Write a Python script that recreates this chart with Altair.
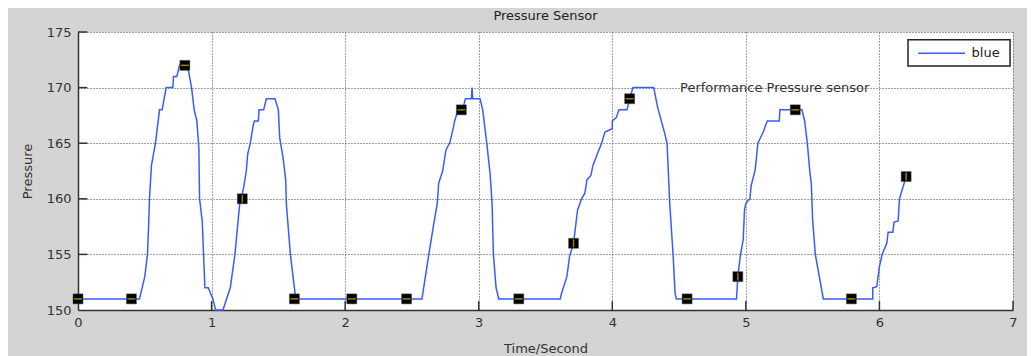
import altair as alt
import pandas as pd

# Pressure curve (time in seconds, pressure)
time_s = [0, 0.46, 0.50, 0.52, 0.53, 0.535, 0.55, 0.58, 0.61, 0.63, 0.66, 0.71, 0.715, 0.74, 0.76, 0.82,
          0.85, 0.87, 0.89, 0.905, 0.91, 0.93, 0.95, 0.975, 1.01, 1.03, 1.085, 1.14, 1.175, 1.21, 1.24,
          1.26, 1.27, 1.29, 1.31, 1.32, 1.35, 1.355, 1.39, 1.41, 1.475, 1.50, 1.51, 1.535, 1.555, 1.56,
          1.59, 1.62, 1.63, 2.575, 2.62, 2.66, 2.69, 2.70, 2.73, 2.755, 2.785, 2.81, 2.82, 2.845, 2.88,
          2.90, 2.945, 2.95, 2.955, 3.01, 3.03, 3.06, 3.085, 3.10, 3.11, 3.13, 3.15, 3.61, 3.62, 3.66,
          3.68, 3.71, 3.74, 3.77, 3.795, 3.81, 3.84, 3.855, 3.89, 3.92, 3.945, 4.0, 4.0, 4.03, 4.05,
          4.11, 4.13, 4.155, 4.31, 4.34, 4.39, 4.41, 4.42, 4.43, 4.455, 4.47, 4.48, 4.93, 4.94, 4.96,
          4.98, 4.99, 5.0, 5.03, 5.04, 5.07, 5.09, 5.13, 5.16, 5.25, 5.255, 5.42, 5.44, 5.46, 5.48,
          5.49, 5.50, 5.52, 5.58, 5.95, 5.95, 5.98, 6.0, 6.02, 6.055, 6.065, 6.10, 6.11, 6.14, 6.15, 6.20]
pressure = [151, 151, 153, 155, 158, 160, 163, 165, 168, 168, 170, 170, 171, 171, 172, 172,
            170, 168, 167, 164.5, 160, 158, 152, 152, 151, 150, 150, 152, 155, 159.5, 161,
            162.5, 164, 165, 166.5, 167, 167, 168, 168, 169, 169, 168, 165.5, 163.7, 161.7, 159.5,
            155, 152, 151, 151, 154.5, 157.5, 159.6, 161.4, 162.5, 164.4, 165.1, 166.4, 167, 168, 168,
            169, 169, 170, 169, 169, 168, 165, 162.3, 159.6, 155, 152, 151, 151, 151.5, 153,
            154.8, 156, 159, 160, 160.5, 161.7, 162.1, 163, 164.1, 165, 166, 166.3, 167, 167.3, 168,
            168, 169, 170, 170, 168.2, 166, 165, 162.3, 159.6, 155, 151.5, 151, 151, 153, 155,
            156.3, 159, 159.6, 160, 161.2, 162.6, 165, 166, 167, 167, 168, 168, 167, 165, 162.3,
            161.4, 158.1, 155, 151, 151, 152, 152.1, 153.9, 155, 156, 157, 157, 157.9, 158, 160, 162]

# Sampled markers
marker_t = [0, 0.40, 0.80, 1.23, 1.62, 2.05, 2.46, 2.87, 3.30, 3.71, 4.13, 4.56, 4.94, 5.37, 5.79, 6.20]
marker_p = [151, 151, 172, 160, 151, 151, 151, 168, 151, 156, 169, 151, 153, 168, 151, 162]
marker_steep = [False, False, False, True, False, False, False, False, False, True, False, False, True, False, False, True]

x_ticks = [0, 1, 2, 3, 4, 5, 6, 7]
y_ticks = [150, 155, 160, 165, 170, 175]

annotation = "Performance Pressure sensor"
annot_t, annot_p = 4.507, 170

# legend box (data units, top-right of the axes)
legend_label = "blue"
legend_box_t = [6.214, 6.978]
legend_box_p = [171.95, 174.3]
legend_line_t = [6.29, 6.64]
legend_line_p = 173.1
legend_text_t = 6.69

FONT = "DejaVu Sans"
BLUE = "#3a5cff"

curve = pd.DataFrame({"t": time_s, "p": pressure, "i": range(len(time_s))})
marks = pd.DataFrame({"t": marker_t, "p": marker_p, "steep": marker_steep})

xs = alt.Scale(domain=[0, 7], nice=False, zero=False)
ys = alt.Scale(domain=[150, 175], nice=False, zero=False)

x_axis = alt.Axis(values=x_ticks, title="Time/Second", grid=True, gridDash=[1, 2], gridColor="#444",
                  gridWidth=1, tickSize=0, labelPadding=6, titlePadding=13, domainColor="#333",
                  domainWidth=1.5, format="d", labelFlush=False)
y_axis = alt.Axis(values=y_ticks, title="Pressure", grid=True, gridDash=[1, 2], gridColor="#444",
                  gridWidth=1, tickSize=0, labelPadding=7, titlePadding=12, domainColor="#333",
                  domainWidth=1.5, format="d", labelFlush=False)

line = alt.Chart(curve).mark_line(strokeWidth=1.5, color=BLUE).encode(
    x=alt.X("t:Q", scale=xs, axis=x_axis),
    y=alt.Y("p:Q", scale=ys, axis=y_axis),
    order="i:Q",
)

squares = alt.Chart(marks).mark_square(size=100, color="black", opacity=1, stroke="#555", strokeWidth=0.5).encode(
    x=alt.X("t:Q", scale=xs), y=alt.Y("p:Q", scale=ys)
)
flat_ticks = alt.Chart(marks).transform_filter("!datum.steep").mark_tick(
    orient="horizontal", color="#c8c000", size=8, thickness=1.5).encode(
    x=alt.X("t:Q", scale=xs), y=alt.Y("p:Q", scale=ys)
)
steep_ticks = alt.Chart(marks).transform_filter("datum.steep").mark_tick(
    orient="vertical", color="#c8c000", size=8, thickness=1.5).encode(
    x=alt.X("t:Q", scale=xs), y=alt.Y("p:Q", scale=ys)
)

# inward axis ticks
xt = pd.DataFrame({"t": x_ticks[1:], "y0": 150, "y1": 150.8})
yt = pd.DataFrame({"p": y_ticks[1:], "x0": 0, "x1": 0.07})
x_inward = alt.Chart(xt).mark_rule(color="#333", strokeWidth=1.5).encode(
    x=alt.X("t:Q", scale=xs), y=alt.Y("y0:Q", scale=ys), y2="y1:Q")
y_inward = alt.Chart(yt).mark_rule(color="#333", strokeWidth=1.5).encode(
    y=alt.Y("p:Q", scale=ys), x=alt.X("x0:Q", scale=xs), x2="x1:Q")

text = alt.Chart(pd.DataFrame({"t": [annot_t], "p": [annot_p], "s": [annotation]})).mark_text(
    align="left", baseline="middle", font=FONT, fontSize=13, color="#333").encode(
    x=alt.X("t:Q", scale=xs), y=alt.Y("p:Q", scale=ys), text="s:N")

# manual legend
leg_box = alt.Chart(pd.DataFrame({"t0": [legend_box_t[0]], "t1": [legend_box_t[1]],
                                  "p0": [legend_box_p[0]], "p1": [legend_box_p[1]]})).mark_rect(
    fill="white", stroke="#222", strokeWidth=1.5).encode(
    x=alt.X("t0:Q", scale=xs), x2="t1:Q", y=alt.Y("p0:Q", scale=ys), y2="p1:Q")
leg_line = alt.Chart(pd.DataFrame({"t0": [legend_line_t[0]], "t1": [legend_line_t[1]],
                                   "p": [legend_line_p]})).mark_rule(color=BLUE, strokeWidth=1.5).encode(
    x=alt.X("t0:Q", scale=xs), x2="t1:Q", y=alt.Y("p:Q", scale=ys))
leg_text = alt.Chart(pd.DataFrame({"t": [legend_text_t], "p": [legend_line_p], "s": [legend_label]})).mark_text(
    align="left", baseline="middle", font=FONT, fontSize=13, color="#222").encode(
    x=alt.X("t:Q", scale=xs), y=alt.Y("p:Q", scale=ys), text="s:N")

chart = alt.layer(line, x_inward, y_inward, squares, flat_ticks, steep_ticks, text,
                  leg_box, leg_line, leg_text).properties(
    width=935, height=278,
    title=alt.TitleParams("Pressure Sensor", font=FONT, fontSize=13, fontWeight="normal",
                          color="#222", offset=3, anchor="middle"),
    padding={"left": 70, "top": 24, "right": 14, "bottom": 46},
    autosize="none",
    background="#d4d4d4",
).configure_view(fill="white", strokeWidth=0).configure_axis(
    labelFont=FONT, labelFontSize=13, labelColor="#333", titleFont=FONT, titleFontSize=13,
    titleColor="#333", titleFontWeight="normal"
)

chart.save("out.html", embed_options={"renderer": "svg", "actions": False})
